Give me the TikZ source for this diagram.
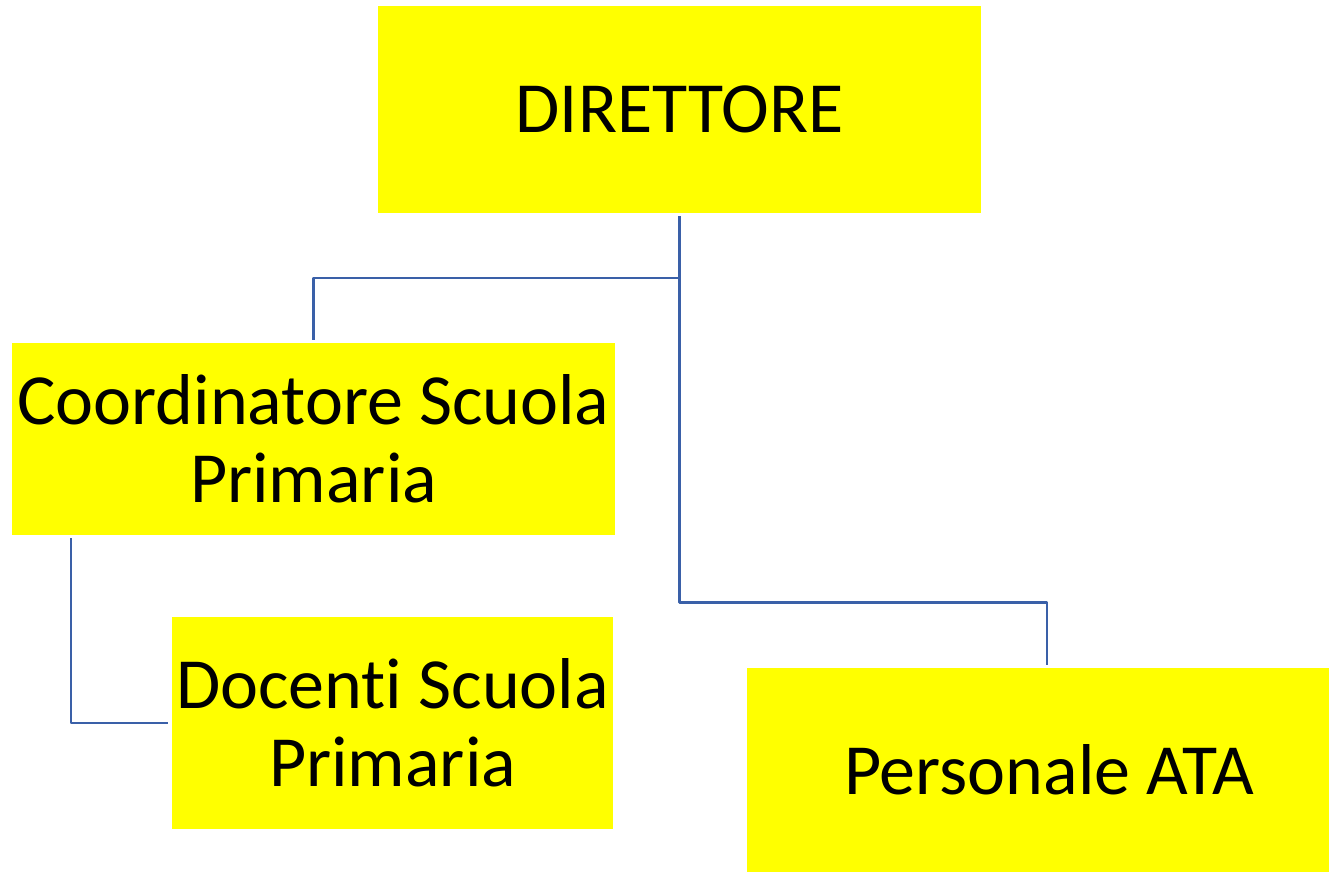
\documentclass[tikz,border=0pt]{standalone}
\usepackage{fontspec}
\setmainfont{Carlito}[Ligatures=NoCommon]
\definecolor{boxyellow}{RGB}{255,255,0}
\definecolor{linkblue}{RGB}{58,96,168}
\begin{document}
\begin{tikzpicture}[line join=round, x=0.5pt, y=-0.5pt]
    \tikzset{
        box/.style={rectangle, fill=boxyellow, inner sep=0pt, align=center,
            font=\fontsize{36}{39}\selectfont},
        link/.style={draw=linkblue, line width=1.3pt, shorten <=1.5pt, shorten >=1.5pt}
    }
    \useasboundingbox (0,0) rectangle (1330,874);
    \node[box, minimum width=301.5pt, minimum height=103.5pt] (direttore) at (679.5,109.5) {DIRETTORE};
    \node[box, minimum width=301.5pt, minimum height=96pt] (coord) at (313.5,439) {Coordinatore Scuola\\Primaria};
    \node[box, minimum width=220.5pt, minimum height=106pt] (docenti) at (392.5,723) {Docenti Scuola\\Primaria};
    \node[box, minimum width=291pt, minimum height=102pt] (ata) at (1038,770) {\hspace{11pt}Personale ATA};
    % connectors
    \draw[link] (direttore.south) -- ++(0,389) -| ([xshift=4.5pt]ata.north);
    \draw[link, shorten <=0pt] (direttore.south |- 0,278) -| (coord.north);
    \draw[link, shorten >=2pt] ([xshift=-121.25pt]coord.south) |- (docenti.west);
\end{tikzpicture}
\end{document}
